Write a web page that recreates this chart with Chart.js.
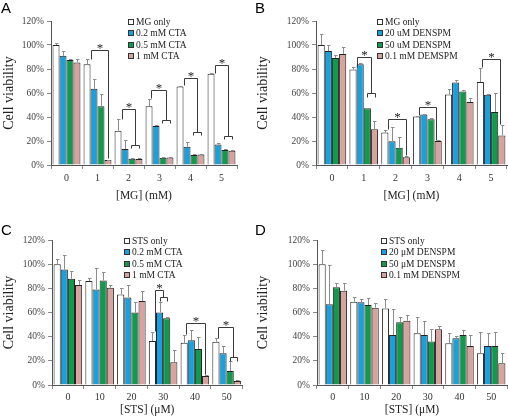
<!DOCTYPE html>
<html>
<head>
<meta charset="utf-8">
<script src="https://cdn.jsdelivr.net/npm/chart.js@4.4.1/dist/chart.umd.min.js"></script>
<style>
  html, body { margin: 0; padding: 0; background: #fff; }
  #wrap { position: relative; width: 508px; height: 420px; }
  #wrap canvas { position: absolute; }
</style>
</head>
<body>
<div id="wrap">
  <canvas id="panelA" width="254" height="210" style="left:0;top:0"></canvas>
  <canvas id="panelB" width="254" height="210" style="left:254px;top:0"></canvas>
  <canvas id="panelC" width="254" height="210" style="left:0;top:210px"></canvas>
  <canvas id="panelD" width="254" height="210" style="left:254px;top:210px"></canvas>
</div>
<script>
// categories
const mgDoses = ['0', '1', '2', '3', '4', '5'];
const stsDoses = ['0', '10', '20', '30', '40', '50'];
const yTicks = [0, 20, 40, 60, 80, 100, 120];

// A: MG + CTA (mean %, sd)
const aMgOnly = [100, 84, 28.5, 49, 65.5, 76];
const aCta02 = [91, 63.5, 13.3, 32.5, 15.2, 17];
const aCta05 = [87.5, 49, 5.3, 6, 8.3, 12.5];
const aCta1 = [85.5, 4.2, 5, 6.2, 8.7, 11.8];
const aMgOnlySd = [2, 4, 9.5, 6, 0.5, 1];
const aCta02Sd = [4, 7.8, 7.7, 1, 3.8, 1];
const aCta05Sd = [0.8, 10, 0.7, 1, 0.7, 0.5];
const aCta1Sd = [2.5, 0.3, 1, 0.8, 0.8, 0.7];

// B: MG + DENSPM
const bMgOnly = [100, 79.5, 27, 40.4, 58.7, 69.2];
const bDen20 = [95, 84, 19.8, 42, 68.8, 58.6];
const bDen50 = [89.2, 47.2, 14.3, 38.2, 61.3, 44.2];
const bDen100 = [92.6, 29.7, 6.5, 20, 52.5, 24.6];
const bMgOnlySd = [9.5, 2, 2, 0.6, 4.5, 12];
const bDen20Sd = [5, 1, 11.7, 0.5, 2, 0.3];
const bDen50Sd = [2.3, 0.3, 8.7, 0.8, 0.8, 15.8];
const bDen100Sd = [5.8, 6.8, 1, 0.5, 3.3, 8.8];

// C: STS + CTA
const cStsOnly = [100, 86, 75, 36.4, 35, 35.8];
const cCta02 = [95.5, 79, 72.5, 60, 37, 26.3];
const cCta05 = [88, 86.5, 60, 55.2, 29.8, 11.6];
const cCta1 = [82.8, 80.5, 69.5, 18.8, 7.4, 3.3];
const cStsOnlySd = [4.5, 2.5, 5.5, 7.5, 6, 2.8];
const cCta02Sd = [12, 18, 10.5, 9, 8.5, 5.7];
const cCta05Sd = [6.3, 7, 9, 1.2, 10, 8.4];
const cCta1Sd = [4, 2.5, 8, 10, 1, 0.7];

// D: STS + DENSPM
const dStsOnly = [100, 69, 63.4, 42.8, 34.5, 26.2];
const dDen20 = [66.8, 68.4, 41.4, 41.4, 38.6, 32.3];
const dDen50 = [80.8, 66.2, 51.9, 35.9, 41.4, 32.3];
const dDen100 = [78, 64, 53.2, 46.1, 32.3, 17.9];
const dStsOnlySd = [12, 3.6, 7.5, 13.2, 8.3, 17.9];
const dDen20Sd = [32.5, 2.5, 21.2, 11.6, 2, 11];
const dDen50Sd = [3.9, 5.5, 4.1, 10.2, 4.1, 11.8];
const dDen100Sd = [6.7, 3.6, 4.7, 2.7, 9.1, 8.3];

// significance brackets: [category, from bar, to bar, top %, left leg end %, right leg end %]
const aBrackets = [[1, 0.5, 3, 95.5, 88, 6], [2, 0.5, 2.4, 46.4, 38.5, 16.7], [3, 0.3, 2.4, 62.5, 55.5, 37.5], [4, 0.5, 2.4, 72.8, 66.5, 27.8], [5, 0.5, 2.45, 83.3, 77, 24.4]];
const aSmall = [[2, 1.8, 3, 16.7, 14], [3, 1.8, 3.05, 37.5, 34.7], [4, 1.8, 3.05, 27.8, 25], [5, 1.9, 3, 24.4, 21.4]];
const bBrackets = [[1, 0.5, 2.5, 90, 82, 59.7], [2, 0.4, 3, 38.4, 30, 8], [3, 0.3, 2.75, 48, 41.5, 21], [5, 0.3, 2.7, 88, 81.5, 34]];
const bSmall = [[1, 2, 3.05, 59.7, 57]];
const cBrackets = [[3, 0.3, 1.5, 79, 45, 72.5], [4, 0.2, 2.85, 51, 42, 9], [5, 0.35, 2.45, 47.7, 39, 23.4]];
const cSmall = [[3, 1.1, 2, 72.5, 69.8], [5, 1.95, 2.95, 23.4, 20]];

const barColors = ['#ffffff', '#1aa0dc', '#129a4c', '#d8a39e'];
const SERIF = '"Liberation Serif", "Times New Roman", serif';

// draws error bars, brackets, legend and panel letter
const panelExtras = {
  id: 'panelExtras',
  afterDatasetsDraw(chart, args, opts) {
    const ctx = chart.ctx;
    const ys = chart.scales.y;
    ctx.save();
    // error bars
    ctx.strokeStyle = '#8c8c8c';
    ctx.lineWidth = 1;
    opts.sds.forEach((sd, di) => {
      const meta = chart.getDatasetMeta(di);
      meta.data.forEach((bar, i) => {
        if (!sd[i] || sd[i] < 0.3) return;
        const v = chart.data.datasets[di].data[i];
        const x = Math.round(bar.x) + 0.5;
        const y0 = ys.getPixelForValue(v);
        const y1 = Math.round(ys.getPixelForValue(v + sd[i])) + 0.5;
        ctx.beginPath();
        ctx.moveTo(x, y0);
        ctx.lineTo(x, y1);
        ctx.moveTo(x - 1.5, y1);
        ctx.lineTo(x + 2, y1);
        ctx.stroke();
      });
    });
    // brackets
    const barX = (cat, p) => {
      const m0 = chart.getDatasetMeta(0).data[cat];
      const m1 = chart.getDatasetMeta(1).data[cat];
      return Math.round(m0.x + p * (m1.x - m0.x)) + 0.5;
    };
    const py = v => Math.round(ys.getPixelForValue(v)) + 0.5;
    ctx.strokeStyle = '#3a3a3a';
    ctx.fillStyle = '#222';
    ctx.font = '13px ' + SERIF;
    ctx.textAlign = 'center';
    ctx.textBaseline = 'alphabetic';
    (opts.brackets || []).forEach(b => {
      const x1 = barX(b[0], b[1]), x2 = barX(b[0], b[2]);
      ctx.beginPath();
      ctx.moveTo(x1, py(b[4]));
      ctx.lineTo(x1, py(b[3]));
      ctx.lineTo(x2, py(b[3]));
      ctx.lineTo(x2, py(b[5]));
      ctx.stroke();
      ctx.fillText('*', (x1 + x2) / 2, py(b[3]) + 1);
    });
    (opts.small || []).forEach(b => {
      const x1 = barX(b[0], b[1]), x2 = barX(b[0], b[2]);
      ctx.beginPath();
      ctx.moveTo(x1, py(b[4]));
      ctx.lineTo(x1, py(b[3]));
      ctx.lineTo(x2, py(b[3]));
      ctx.lineTo(x2, py(b[4]));
      ctx.stroke();
    });
    ctx.restore();
  },
  afterDraw(chart, args, opts) {
    const ctx = chart.ctx;
    ctx.save();
    // legend inside plot
    ctx.font = '9.5px ' + SERIF;
    ctx.textAlign = 'left';
    ctx.textBaseline = 'middle';
    chart.data.datasets.forEach((ds, i) => {
      const y = Math.round(chart.chartArea.top + 1 + i * 11.3);
      ctx.fillStyle = ds.backgroundColor;
      ctx.fillRect(opts.legendX, y - 3, 6, 6);
      ctx.strokeStyle = '#333';
      ctx.lineWidth = 1;
      ctx.strokeRect(opts.legendX + 0.5, y - 2.5, 5, 5);
      ctx.fillStyle = '#222';
      ctx.fillText(ds.label, opts.legendX + 8, y + 0.5);
    });
    // panel letter
    ctx.fillStyle = '#000';
    ctx.font = '15px "Liberation Sans", Arial, sans-serif';
    ctx.textBaseline = 'alphabetic';
    ctx.fillText(opts.letter, 1, opts.letterY);
    ctx.restore();
  }
};

function makePanel(id, cfg) {
  const ctx = document.getElementById(id).getContext('2d');
  return new Chart(ctx, {
    type: 'bar',
    data: {
      labels: cfg.labels,
      datasets: cfg.series.map((s, i) => ({
        label: cfg.names[i],
        data: s,
        backgroundColor: barColors[i],
        borderColor: '#222',
        borderWidth: 1,
        categoryPercentage: 0.9,
        barPercentage: 1.0
      }))
    },
    options: {
      responsive: false,
      animation: false,
      layout: { padding: { left: 0, right: cfg.padRight, top: cfg.top, bottom: 0 } },
      plugins: {
        legend: { display: false },
        tooltip: { enabled: false },
        panelExtras: {
          sds: cfg.sds,
          brackets: cfg.brackets,
          small: cfg.small,
          legendX: cfg.legendX,
          letter: cfg.letter,
          letterY: cfg.letterY
        }
      },
      scales: {
        x: {
          grid: { drawOnChartArea: false, tickLength: 4, color: '#888', offset: true },
          border: { color: '#555' },
          ticks: { font: { family: SERIF, size: 10 }, color: '#333', padding: cfg.xTickPad },
          title: {
            display: true, text: cfg.xTitle, color: '#222',
            font: { family: SERIF, size: 11.5 },
            padding: { top: 0, bottom: cfg.xTitlePad }
          },
          afterFit(s) { s.height = cfg.xHeight; }
        },
        y: {
          min: yTicks[0],
          max: yTicks[yTicks.length - 1],
          afterBuildTicks(s) { s.ticks = yTicks.map(v => ({ value: v })); },
          ticks: { font: { family: SERIF, size: 9.5 }, color: '#444', padding: 3, callback: v => v + '%' },
          grid: { drawOnChartArea: false, tickLength: 4, color: '#888' },
          border: { color: '#555' },
          title: {
            display: true, text: 'Cell viability', color: '#222',
            font: { family: SERIF, size: 14 },
            padding: { top: 1, bottom: 0 }
          },
          afterFit(s) { s.width = cfg.yWidth; }
        }
      }
    },
    plugins: [panelExtras]
  });
}

makePanel('panelA', {
  labels: mgDoses, letter: 'A', letterY: 13,
  names: ['MG only', '0.2 mM CTA', '0.5 mM CTA', '1 mM CTA'],
  series: [aMgOnly, aCta02, aCta05, aCta1],
  sds: [aMgOnlySd, aCta02Sd, aCta05Sd, aCta1Sd],
  brackets: aBrackets, small: aSmall,
  xTitle: '[MG] (mM)',
  yWidth: 51, padRight: 17, top: 21, xHeight: 45, xTitlePad: 7, xTickPad: 3, legendX: 128
});
makePanel('panelB', {
  labels: mgDoses, letter: 'B', letterY: 13,
  names: ['MG only', '20 uM DENSPM', '50 uM DENSPM', '0.1 mM DEMSPM'],
  series: [bMgOnly, bDen20, bDen50, bDen100],
  sds: [bMgOnlySd, bDen20Sd, bDen50Sd, bDen100Sd],
  brackets: bBrackets, small: bSmall,
  xTitle: '[MG] (mM)',
  yWidth: 62, padRight: 1, top: 21, xHeight: 45, xTitlePad: 7, xTickPad: 3, legendX: 123
});
makePanel('panelC', {
  labels: stsDoses, letter: 'C', letterY: 25,
  names: ['STS only', '0.2 mM CTA', '0.5 mM CTA', '1 mM CTA'],
  series: [cStsOnly, cCta02, cCta05, cCta1],
  sds: [cStsOnlySd, cCta02Sd, cCta05Sd, cCta1Sd],
  brackets: cBrackets, small: cSmall,
  xTitle: '[STS] (\u03bcM)',
  yWidth: 52, padRight: 11.5, top: 30, xHeight: 35, xTitlePad: 3, xTickPad: 2, legendX: 124
});
makePanel('panelD', {
  labels: stsDoses, letter: 'D', letterY: 25,
  names: ['STS only', '20 \u03bcM DENSPM', '50 \u03bcM DENSPM', '0.1 mM DENSPM'],
  series: [dStsOnly, dDen20, dDen50, dDen100],
  sds: [dStsOnlySd, dDen20Sd, dDen50Sd, dDen100Sd],
  brackets: [], small: [],
  xTitle: '[STS] (\u03bcM)',
  yWidth: 63, padRight: 1, top: 30, xHeight: 35, xTitlePad: 3, xTickPad: 2, legendX: 127
});
</script>
</body>
</html>
